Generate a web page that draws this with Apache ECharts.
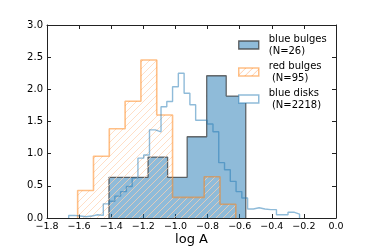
<!DOCTYPE html>
<html>
<head>
<meta charset="utf-8">
<script src="https://cdn.jsdelivr.net/npm/echarts@6/dist/echarts.min.js"></script>
<style>html,body{margin:0;padding:0;background:#fff}#c{width:374px;height:249px}</style>
</head>
<body>
<div id="c"></div>
<script>
// ---- data ----
const seriesNames = ['blue bulges', 'red bulges', 'blue disks'];
const legendLabels = ['blue bulges\n(N=26)', 'red bulges\n (N=95)', 'blue disks\n (N=2218)'];
// histogram ranges (log A) and densities
const blueBulgeRange = [-1.414, -0.562];
const blueBulgeDensity = [0.632, 0.632, 0.947, 0.632, 1.263, 2.211, 1.895];
const redBulgeRange = [-1.609, -0.624];
const redBulgeDensity = [0.427, 0.961, 1.388, 1.815, 2.456, 1.602, 0.320, 0.320, 0.641, 0.214];
const blueDiskRange = [-1.665, -0.227];
const blueDiskDensity = [0.04, 0.03, 0.02, 0.03, 0.05, 0.04, 0.22, 0.26, 0.34, 0.41,
  0.49, 0.62, 0.93, 0.98, 1.37, 1.34, 1.73, 1.81, 2.04, 2.25,
  1.94, 1.76, 1.52, 1.52, 1.46, 1.34, 0.86, 0.75, 0.57, 0.41,
  0.31, 0.14, 0.16, 0.14, 0.13, 0.13, 0.05, 0.05, 0.09, 0.06];
const xTicks = [-1.8, -1.6, -1.4, -1.2, -1.0, -0.8, -0.6, -0.4, -0.2, 0.0];
const yTicks = [0.0, 0.5, 1.0, 1.5, 2.0, 2.5, 3.0];

function histPoints(range, dens) {
  const n = dens.length, w = (range[1] - range[0]) / n;
  const pts = [[range[0], 0]];
  for (let i = 0; i < n; i++) pts.push([range[0] + i * w, dens[i]]);
  pts.push([range[1], 0]);
  return pts;
}

function hatch(color, bg) {
  const s = 7, c = document.createElement('canvas');
  c.width = s; c.height = s;
  const g = c.getContext('2d');
  if (bg) { g.fillStyle = bg; g.fillRect(0, 0, s, s); }
  g.strokeStyle = color; g.lineWidth = 1;
  g.beginPath();
  g.moveTo(-1, s + 1); g.lineTo(s + 1, -1);
  g.moveTo(-1, 1); g.lineTo(1, -1);
  g.moveTo(s - 1, s + 1); g.lineTo(s + 1, s - 1);
  g.stroke();
  return c;
}
const hatchImg = hatch('rgba(255,210,175,0.7)');
const hatchLegend = hatch('rgba(255,200,160,0.9)', '#fff');

const fmt = v => (Math.round(v * 10) / 10).toFixed(1).replace('-', '\u2212');
const font = 'DejaVu Sans';

const chart = echarts.init(document.getElementById('c'), null, {renderer: 'canvas'});
const axisCommon = {
  axisLine: {show: true, onZero: false, lineStyle: {color: '#222', width: 1}},
  axisTick: {show: true, inside: true, length: 4, lineStyle: {color: '#222'}},
  splitLine: {show: false}
};
chart.setOption({
  animation: false,
  backgroundColor: '#fff',
  grid: {left: 47, right: 38, top: 25, bottom: 31, containLabel: false, outerBoundsMode: 'none'},
  legend: {
    orient: 'vertical', left: 238, top: 33, padding: 0, itemWidth: 20, itemHeight: 8, itemGap: 3,
    textStyle: {fontFamily: font, fontSize: 10, lineHeight: 12, color: '#000', padding: [0, 0, 0, 5]},
    formatter: name => legendLabels[seriesNames.indexOf(name)],
    data: [
      {name: seriesNames[0], icon: 'rect', itemStyle: {color: 'rgba(31,119,180,0.5)', borderColor: 'rgba(60,60,60,0.8)', borderWidth: 1.3}},
      {name: seriesNames[1], icon: 'rect', itemStyle: {color: {image: hatchLegend, repeat: 'repeat'}, borderColor: 'rgba(255,127,14,0.5)', borderWidth: 1.5}},
      {name: seriesNames[2], icon: 'rect', itemStyle: {color: '#fff', borderColor: 'rgba(31,119,180,0.5)', borderWidth: 1.5}}
    ]
  },
  xAxis: [
    Object.assign({type: 'value', min: -1.8, max: 0, interval: 0.2, position: 'bottom',
      name: 'log A', nameLocation: 'middle', nameGap: 15, nameMoveOverlap: false,
      nameTextStyle: {fontFamily: font, fontSize: 13, color: '#000', verticalAlign: 'top'},
      axisLabel: {fontFamily: font, fontSize: 9.5, color: '#000', margin: 4, formatter: fmt, customValues: xTicks}}, axisCommon),
    Object.assign({type: 'value', min: -1.8, max: 0, interval: 0.2, position: 'top', axisLabel: {show: false}}, axisCommon)
  ],
  yAxis: [
    Object.assign({type: 'value', min: 0, max: 3, interval: 0.5, position: 'left',
      axisLabel: {fontFamily: font, fontSize: 10, color: '#000', margin: 4, formatter: fmt, customValues: yTicks}}, axisCommon),
    Object.assign({type: 'value', min: 0, max: 3, interval: 0.5, position: 'right', axisLabel: {show: false}}, axisCommon)
  ],
  series: [
    {name: seriesNames[0], type: 'line', step: 'end', symbol: 'none', z: 2,
      data: histPoints(blueBulgeRange, blueBulgeDensity),
      itemStyle: {color: 'rgba(31,119,180,0.5)'},
      lineStyle: {color: 'rgba(60,60,60,0.75)', width: 1.3},
      areaStyle: {color: 'rgba(31,119,180,0.5)', opacity: 1}},
    {name: seriesNames[1], type: 'line', step: 'end', symbol: 'none', z: 3,
      data: histPoints(redBulgeRange, redBulgeDensity),
      itemStyle: {color: 'rgba(255,127,14,0.5)'},
      lineStyle: {color: 'rgba(255,127,14,0.5)', width: 1.6},
      areaStyle: {color: {image: hatchImg, repeat: 'repeat'}, opacity: 1}},
    {name: seriesNames[2], type: 'line', step: 'end', symbol: 'none', z: 4,
      data: histPoints(blueDiskRange, blueDiskDensity),
      itemStyle: {color: 'rgba(31,119,180,0.5)'},
      lineStyle: {color: 'rgba(31,119,180,0.5)', width: 1.4}}
  ]
});
</script>
</body>
</html>
